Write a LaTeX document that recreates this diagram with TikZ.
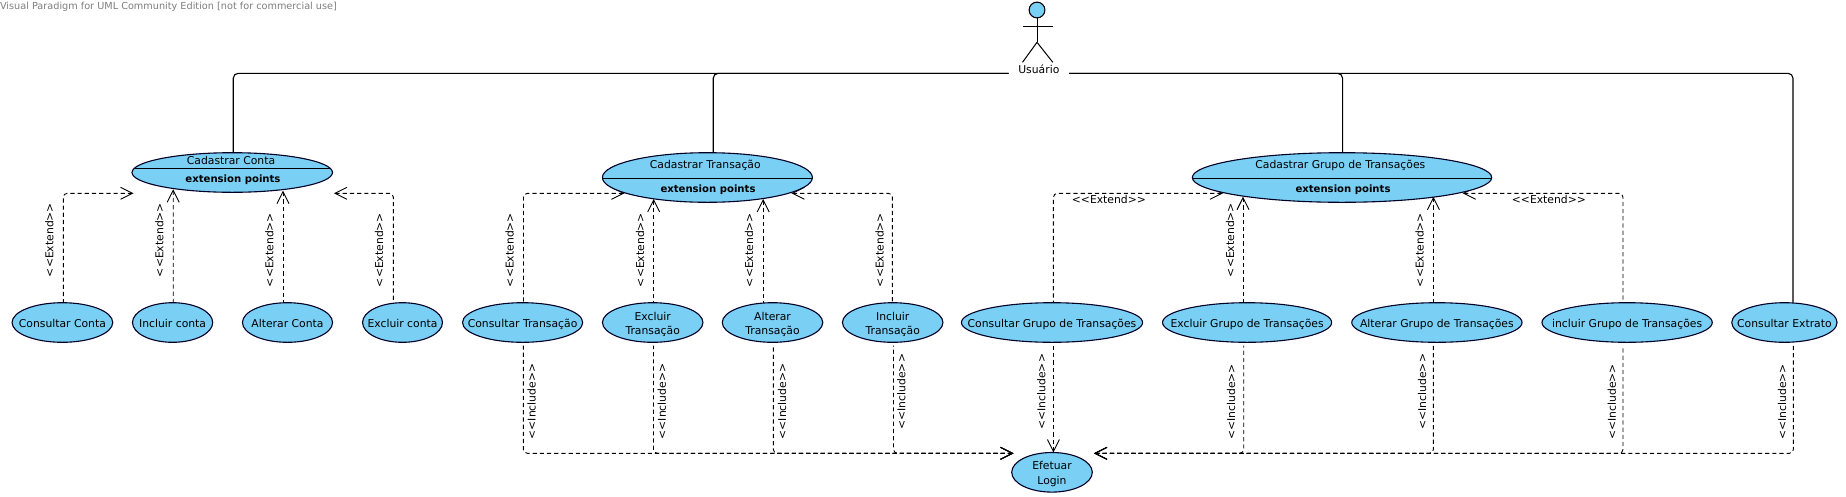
\documentclass[tikz,border=0pt]{standalone}
\usepackage{fontspec}
\usetikzlibrary{arrows.meta,shapes.geometric,backgrounds}
\newfontfamily\lucid{DejaVu Sans}
\definecolor{ucfill}{HTML}{7ACFF5}
\definecolor{wmgray}{HTML}{7F7F7F}
\newcommand{\zb}[1]{\makebox[0pt]{\raisebox{-0.42em}[0pt][0pt]{\begin{tabular}[c]{@{}c@{}}#1\end{tabular}}}}
\tikzset{
  txt/.style={font=\lucid\fontsize{10.8}{14.3}\selectfont,text=black,inner sep=0pt,outer sep=0pt},
  uc/.style={ellipse,draw=black!85!blue,line width=1.1pt,fill=ucfill,inner sep=0pt,outer sep=0pt,txt,minimum height=39.6pt},
  comp/.style={path picture={\draw[line width=1pt,black] ([yshift=#1]path picture bounding box.west) -- ([yshift=#1]path picture bounding box.east);}},
  cname/.style={txt},
  cext/.style={txt,font=\lucid\bfseries\fontsize{10.1}{14.3}\selectfont},
  vlab/.style={txt,rotate=90},
  hlab/.style={txt},
  dep/.style={line width=0.9pt,black,dash pattern=on 4.2pt off 3pt,rounded corners=4pt,
    arrows={Straight Barb[length=12pt,width=12pt,line width=0.9pt]-}},
  assoc/.style={line width=1.1pt,black,rounded corners=5pt}
}
\begin{document}
\begin{tikzpicture}[x=1pt,y=-1pt]
\useasboundingbox (0,0) rectangle (1846,496);

\node[txt,text=wmgray,anchor=west,font=\lucid\fontsize{9.7}{11}\selectfont] (wm) at (0,6.6) {Visual Paradigm for UML Community Edition [not for commercial use]};

% Actor
\node[ellipse,draw=black,line width=1.1pt,fill=ucfill,minimum width=15.8pt,minimum height=15.8pt,inner sep=0pt,outer sep=0pt] (head) at (1037,10) {};
\coordinate (hip) at (1037,42.3);
\draw[line width=1pt] (head.south) -- (hip);
\draw[line width=1pt] (1022.5,26) -- (1052.8,26);
\draw[line width=1pt] (1022.5,62.3) -- (hip) -- (1052.8,62.3);
\node[txt,fill=white,minimum width=60.3pt,minimum height=11pt] (user) at (1038.85,69.6) {Usuário\hspace{3pt}};

% Parent use cases
\node[uc,comp=4.2pt,minimum width=200.5pt] (cconta) at (232.25,172.5) {};
\node[cname] (cconta-n) at (231,160) {Cadastrar Conta};
\node[cext] (cconta-e) at (233,179.3) {extension points};

\node[uc,comp=-0.8pt,minimum width=210pt,minimum height=49.6pt] (ctrans) at (707.4,177.5) {};
\node[cname] (ctrans-n) at (705.3,165) {Cadastrar Transação};
\node[cext] (ctrans-e) at (708,189.3) {extension points};

\node[uc,comp=-0.8pt,minimum width=299.4pt,minimum height=49.6pt] (cgrupo) at (1342,177.5) {};
\node[cname] (cgrupo-n) at (1340.3,165) {Cadastrar Grupo de Transações};
\node[cext] (cgrupo-e) at (1343,189.3) {extension points};

% Row of use cases
\node[uc,minimum width=100.7pt] (u1) at (62.4,322.5) {\zb{Consultar Conta}};
\node[uc,minimum width=80.2pt] (u2) at (172.6,322.5) {\zb{Incluir conta}};
\node[uc,minimum width=90.1pt] (u3) at (287.5,322.5) {\zb{Alterar Conta}};
\node[uc,minimum width=79.9pt] (u4) at (402.5,322.5) {\zb{Excluir conta}};
\node[uc,minimum width=120.2pt] (t1) at (522.6,322.5) {\zb{Consultar Transação}};
\node[uc,minimum width=100.5pt] (t2) at (652.7,322.5) {\zb{Excluir\\Transação}};
\node[uc,minimum width=100.5pt] (t3) at (772.5,322.5) {\zb{Alterar\\Transação}};
\node[uc,minimum width=100.5pt] (t4) at (892.7,322.5) {\zb{Incluir\\Transação}};
\node[uc,minimum width=181.2pt] (g1) at (1052,322.5) {\zb{Consultar Grupo de Transações}};
\node[uc,minimum width=169.1pt] (g2) at (1247.1,322.5) {\zb{Excluir Grupo de Transações}};
\node[uc,minimum width=170.3pt] (g3) at (1436.9,322.5) {\zb{Alterar Grupo de Transações}};
\node[uc,minimum width=170.3pt] (g4) at (1627.1,322.5) {\zb{incluir Grupo de Transações}};
\node[uc,minimum width=105.3pt] (ext) at (1784.4,322.5) {\zb{Consultar Extrato}};
\node[uc,minimum width=80.6pt] (login) at (1052,472.3) {\zb{Efetuar\\Login}};

% Stereotype labels
\node[vlab] (e1) at (49.4,240) {<<Extend>>};
\node[vlab] (e2) at (159.4,240) {<<Extend>>};
\node[vlab] (e3) at (269.3,250) {<<Extend>>};
\node[vlab] (e4) at (379,250) {<<Extend>>};
\node[vlab] (e5) at (509.7,250) {<<Extend>>};
\node[vlab] (e6) at (640,250) {<<Extend>>};
\node[vlab] (e7) at (749,250) {<<Extend>>};
\node[vlab] (e8) at (879.6,250) {<<Extend>>};
\node[hlab] (e9) at (1108.9,199.3) {<<Extend>>};
\node[vlab] (e10) at (1230,240) {<<Extend>>};
\node[vlab] (e11) at (1419.7,250) {<<Extend>>};
\node[hlab] (e12) at (1548.9,199.3) {<<Extend>>};

\node[vlab] (i1) at (531.7,401.5) {<<Include>>};
\node[vlab] (i2) at (661.8,401.5) {<<Include>>};
\node[vlab] (i3) at (782,401.5) {<<Include>>};
\node[vlab] (i4) at (901.4,391.7) {<<Include>>};
\node[vlab] (i5) at (1041.4,391.7) {<<Include>>};
\node[vlab] (i6) at (1231,402) {<<Include>>};
\node[vlab] (i7) at (1422,391.7) {<<Include>>};
\node[vlab] (i8) at (1611.7,402) {<<Include>>};
\node[vlab] (i9) at (1782,402) {<<Include>>};

% Arrow end points
\coordinate (cc-l) at (133.6,193.3);
\coordinate (cc-r) at (334,193.3);
\coordinate (cc-a) at (173.2,189.3);
\coordinate (cc-b) at (283,190.7);
\coordinate (ct-l) at (624.4,193.3);
\coordinate (ct-r) at (791.4,193.3);
\coordinate (ct-a) at (653.7,199);
\coordinate (ct-b) at (763.2,199);
\coordinate (cg-l) at (1223,193.3);
\coordinate (cg-r) at (1462.6,193.3);
\coordinate (cg-a) at (1243,196.7);
\coordinate (cg-b) at (1433.4,196.7);
\coordinate (lg-l) at (1013.4,453.3);
\coordinate (lg-r) at (1094,453.3);

\begin{scope}[on background layer]
\fill[white] (0,0) rectangle (1846,496);

% Associations
\draw[assoc] ([yshift=-3.7pt]user.west) -| ([xshift=1pt]cconta.north);
\draw[assoc] ([yshift=-3.7pt]user.west) -| ([xshift=5.8pt]ctrans.north);
\draw[assoc] ([yshift=-3.7pt]user.east) -| ([xshift=0.6pt]cgrupo.north);
\draw[assoc] ([yshift=-3.7pt]user.east) -| ([xshift=8.6pt]ext.north);

% Extend
\draw[dep] (cc-l) -| ([xshift=0.9pt]u1.north);
\draw[dep] (cc-a) -- ([xshift=0.6pt]u2.north);
\draw[dep] (cc-b) -- ([xshift=-4.5pt]u3.north);
\draw[dep] (cc-r) -| ([xshift=-9.1pt]u4.north);
\draw[dep] (ct-l) -| ([xshift=0.9pt]t1.north);
\draw[dep] (ct-a) -- ([xshift=1pt]t2.north);
\draw[dep] (ct-b) -- ([xshift=-9.3pt]t3.north);
\draw[dep] (ct-r) -| ([xshift=-0.3pt]t4.north);
\draw[dep] (cg-l) -| ([xshift=1.4pt]g1.north);
\draw[dep] (cg-a) -- ([xshift=-4.1pt]g2.north);
\draw[dep] (cg-b) -- ([xshift=-3.5pt]g3.north);
\draw[dep] (cg-r) -| ([xshift=-4.1pt]g4.north);

% Include
\draw[dep] (lg-l) -| ([xshift=0.8pt,yshift=-3.4pt]t1.south);
\draw[dep] (lg-l) -| ([xshift=0.8pt,yshift=-3.4pt]t2.south);
\draw[dep] (lg-l) -| ([xshift=0.8pt,yshift=-3.4pt]t3.south);
\draw[dep] (lg-l) -| ([xshift=0.8pt,yshift=-3.4pt]t4.south);
\draw[dep] (login.north -| g1.south) ++(1.4,0) -- ([xshift=1.4pt,yshift=-1pt]g1.south);
\draw[dep] (lg-r) -| ([xshift=-3.4pt,yshift=-3.4pt]g2.south);
\draw[dep] (lg-r) -| ([xshift=-3.5pt,yshift=-3.4pt]g3.south);
\draw[dep] (lg-r) -| ([xshift=-4.1pt,yshift=-3.4pt]g4.south);
\draw[dep] (lg-r) -| ([xshift=9pt,yshift=-3.4pt]ext.south);
\end{scope}
\end{tikzpicture}
\end{document}
